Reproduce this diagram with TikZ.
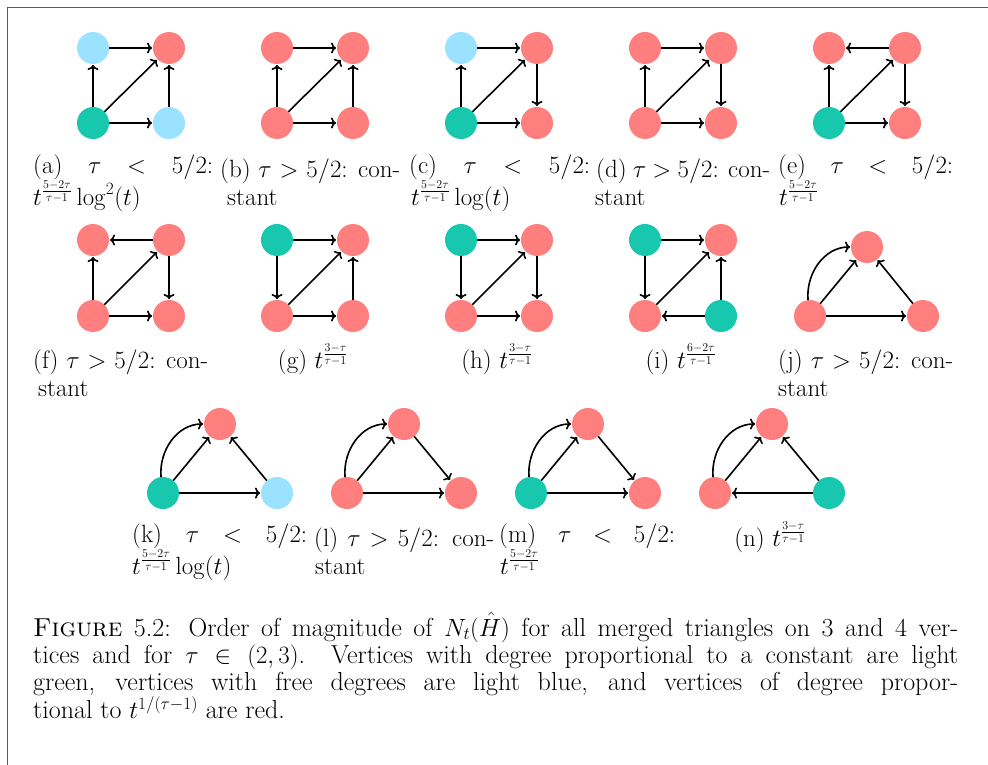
\documentclass[tikz,border=0pt]{standalone}
\usepackage{tikz}
\usetikzlibrary{arrows.meta}
\definecolor{vred}{HTML}{FF7F7F}
\definecolor{vgreen}{HTML}{17C7AE}
\definecolor{vblue}{HTML}{9AE2FF}
\definecolor{framecol}{HTML}{5A5A5A}
\tikzset{
  vtx/.style={circle, minimum size=32pt, inner sep=0pt, outer sep=0pt},
  vr/.style={vtx, fill=vred},
  vg/.style={vtx, fill=vgreen},
  vb/.style={vtx, fill=vblue},
  arr/.style={-{To[length=5pt,width=11pt]}, line width=1.6pt, black, shorten >=1pt},
  captxt/.style={font=\fontsize{25}{28}\selectfont, inner sep=0pt, anchor=base west, align=left},
  captc/.style={font=\fontsize{25}{28}\selectfont, inner sep=0pt, anchor=base},
  maincap/.style={font=\fontsize{26}{27.4}\selectfont, inner sep=0pt, anchor=base west,
    text width=925pt, align=justify},
}
\begin{document}
\begin{tikzpicture}[x=1pt,y=-1pt]
\useasboundingbox (0,0) rectangle (988,765);
\draw[line width=1.5pt, framecol] (7.5,765) -- (7.5,7.5) -- (988,7.5);

% ---------- row 1 ----------
% (a)
\node[vb] (aTL) at (93,48) {};  \node[vr] (aTR) at (169,48) {};
\node[vg] (aBL) at (93,123) {}; \node[vb] (aBR) at (169,123) {};
\draw[arr] (aTL) -- (aTR); \draw[arr] (aBL) -- (aTL); \draw[arr] (aBL) -- (aTR);
\draw[arr] (aBL) -- (aBR); \draw[arr] (aBR) -- (aTR);
% (b)
\node[vr] (bTL) at (277,48) {};  \node[vr] (bTR) at (353,48) {};
\node[vr] (bBL) at (277,123) {}; \node[vr] (bBR) at (353,123) {};
\draw[arr] (bTL) -- (bTR); \draw[arr] (bBL) -- (bTL); \draw[arr] (bBL) -- (bTR);
\draw[arr] (bBL) -- (bBR); \draw[arr] (bBR) -- (bTR);
% (c)
\node[vb] (cTL) at (461,48) {};  \node[vr] (cTR) at (537,48) {};
\node[vg] (cBL) at (461,123) {}; \node[vr] (cBR) at (537,123) {};
\draw[arr] (cTL) -- (cTR); \draw[arr] (cBL) -- (cTL); \draw[arr] (cBL) -- (cTR);
\draw[arr] (cBL) -- (cBR); \draw[arr] (cTR) -- (cBR);
% (d)
\node[vr] (dTL) at (645,48) {};  \node[vr] (dTR) at (721,48) {};
\node[vr] (dBL) at (645,123) {}; \node[vr] (dBR) at (721,123) {};
\draw[arr] (dTL) -- (dTR); \draw[arr] (dBL) -- (dTL); \draw[arr] (dBL) -- (dTR);
\draw[arr] (dBL) -- (dBR); \draw[arr] (dTR) -- (dBR);
% (e)
\node[vr] (eTL) at (829,48) {};  \node[vr] (eTR) at (905,48) {};
\node[vg] (eBL) at (829,123) {}; \node[vr] (eBR) at (905,123) {};
\draw[arr] (eTR) -- (eTL); \draw[arr] (eBL) -- (eTL); \draw[arr] (eBL) -- (eTR);
\draw[arr] (eBL) -- (eBR); \draw[arr] (eTR) -- (eBR);

% captions row 1 (anchor = baseline of the last line)
\node[captxt] (capa) at (33,205) {\makebox[180pt][s]{(a) $\tau$ $<$ $5/2$:}\\$t^{\frac{5-2\tau}{\tau-1}}\log^2(t)$};
\node[captxt] (capb) at (220,205) {\makebox[180pt][s]{(b) $\tau$ $>$ $5/2$: con-}\\\hspace*{7pt}stant};
\node[captxt] (capc) at (409,205) {\makebox[181pt][s]{(c) $\tau$ $<$ $5/2$:}\\\hspace*{2pt}$t^{\frac{5-2\tau}{\tau-1}}\log(t)$};
\node[captxt] (capd) at (595,205) {\hspace*{1pt}\makebox[174pt][s]{(d) $\tau$ $>$ $5/2$: con-}\\stant};
\node[captxt] (cape) at (778,205) {\makebox[175pt][s]{(e) $\tau$ $<$ $5/2$:}\\\hspace*{1pt}$t^{\frac{5-2\tau}{\tau-1}}$};

% ---------- row 2 ----------
% (f)
\node[vr] (fTL) at (93,240) {};  \node[vr] (fTR) at (169,240) {};
\node[vr] (fBL) at (93,316) {}; \node[vr] (fBR) at (169,316) {};
\draw[arr] (fTR) -- (fTL); \draw[arr] (fBL) -- (fTL); \draw[arr] (fBL) -- (fTR);
\draw[arr] (fBL) -- (fBR); \draw[arr] (fTR) -- (fBR);
% (g)
\node[vg] (gTL) at (277,240) {};  \node[vr] (gTR) at (353,240) {};
\node[vr] (gBL) at (277,316) {}; \node[vr] (gBR) at (353,316) {};
\draw[arr] (gTL) -- (gTR); \draw[arr] (gTL) -- (gBL); \draw[arr] (gBL) -- (gTR);
\draw[arr] (gBL) -- (gBR); \draw[arr] (gBR) -- (gTR);
% (h)
\node[vg] (hTL) at (461,240) {};  \node[vr] (hTR) at (537,240) {};
\node[vr] (hBL) at (461,316) {}; \node[vr] (hBR) at (537,316) {};
\draw[arr] (hTL) -- (hTR); \draw[arr] (hTL) -- (hBL); \draw[arr] (hBL) -- (hTR);
\draw[arr] (hBL) -- (hBR); \draw[arr] (hTR) -- (hBR);
% (i)
\node[vg] (iTL) at (645,240) {};  \node[vr] (iTR) at (721,240) {};
\node[vr] (iBL) at (645,316) {}; \node[vg] (iBR) at (721,316) {};
\draw[arr] (iTL) -- (iTR); \draw[arr] (iTL) -- (iBL); \draw[arr] (iBL) -- (iTR);
\draw[arr] (iBR) -- (iBL); \draw[arr] (iBR) -- (iTR);
% (j)
\node[vr] (jBL) at (810,316) {}; \node[vr] (jBR) at (923,316) {};
\node[vr] (jT) at (867,247) {};
\draw[arr] (jBL.97) to[out=95,in=180] (jT.west);
\draw[arr] (jBL) -- (jT); \draw[arr] (jBL) -- (jBR); \draw[arr] (jBR) -- (jT);

% captions row 2
\node[captxt] (capf) at (33,396) {\makebox[175pt][s]{(f) $\tau$ $>$ $5/2$: con-}\\\hspace*{5pt}stant};
\node[captc] (capg) at (313,368) {(g) $t^{\frac{3-\tau}{\tau-1}}$};
\node[captc] (caph) at (497,368) {(h) $t^{\frac{3-\tau}{\tau-1}}$};
\node[captc] (capi) at (681,368) {(i) $t^{\frac{6-2\tau}{\tau-1}}$};
\node[captxt] (capj) at (778,396) {\makebox[175pt][s]{(j) $\tau$ $>$ $5/2$: con-}\\stant};

% ---------- row 3 ----------
% (k)
\node[vg] (kBL) at (163,493) {}; \node[vb] (kBR) at (277,493) {};
\node[vr] (kT) at (220,424) {};
\draw[arr] (kBL.97) to[out=95,in=180] (kT.west);
\draw[arr] (kBL) -- (kT); \draw[arr] (kBL) -- (kBR); \draw[arr] (kBR) -- (kT);
% (l)
\node[vr] (lBL) at (347,493) {}; \node[vr] (lBR) at (461,493) {};
\node[vr] (lT) at (404,424) {};
\draw[arr] (lBL.97) to[out=95,in=180] (lT.west);
\draw[arr] (lBL) -- (lT); \draw[arr] (lBL) -- (lBR); \draw[arr] (lT) -- (lBR);
% (m)
\node[vg] (mBL) at (531,493) {}; \node[vr] (mBR) at (645,493) {};
\node[vr] (mT) at (588,424) {};
\draw[arr] (mBL.97) to[out=95,in=180] (mT.west);
\draw[arr] (mBL) -- (mT); \draw[arr] (mBL) -- (mBR); \draw[arr] (mT) -- (mBR);
% (n)
\node[vr] (nBL) at (715,493) {}; \node[vg] (nBR) at (829,493) {};
\node[vr] (nT) at (772,424) {};
\draw[arr] (nBL.97) to[out=95,in=180] (nT.west);
\draw[arr] (nBL) -- (nT); \draw[arr] (nBR) -- (nBL); \draw[arr] (nBR) -- (nT);

% captions row 3
\node[captxt] (capk) at (132,574) {\makebox[175pt][s]{(k) $\tau$ $<$ $5/2$:}\\$t^{\frac{5-2\tau}{\tau-1}}\log(t)$};
\node[captxt] (capl) at (314,574) {\makebox[180pt][s]{(l) $\tau$ $>$ $5/2$: con-}\\\hspace*{1pt}stant};
\node[captxt] (capm) at (499,574) {\makebox[176pt][s]{(m) $\tau$ $<$ $5/2$:}\\\hspace*{1pt}$t^{\frac{5-2\tau}{\tau-1}}$};
\node[captc] (capn) at (770,546) {(n) $t^{\frac{3-\tau}{\tau-1}}$};

% ---------- main caption ----------
\node[maincap] (mcap) at (33,636) {\textsc{Figure} 5.2: Order of magnitude of $N_t(\hat{H})$ for all merged triangles on 3 and 4 ver-\linebreak tices and for $\tau\in(2,3)$. Vertices with degree proportional to a constant are light\linebreak green, vertices with free degrees are light blue, and vertices of degree propor-\linebreak tional to $t^{1/(\tau-1)}$ are red.};
\end{tikzpicture}
\end{document}
